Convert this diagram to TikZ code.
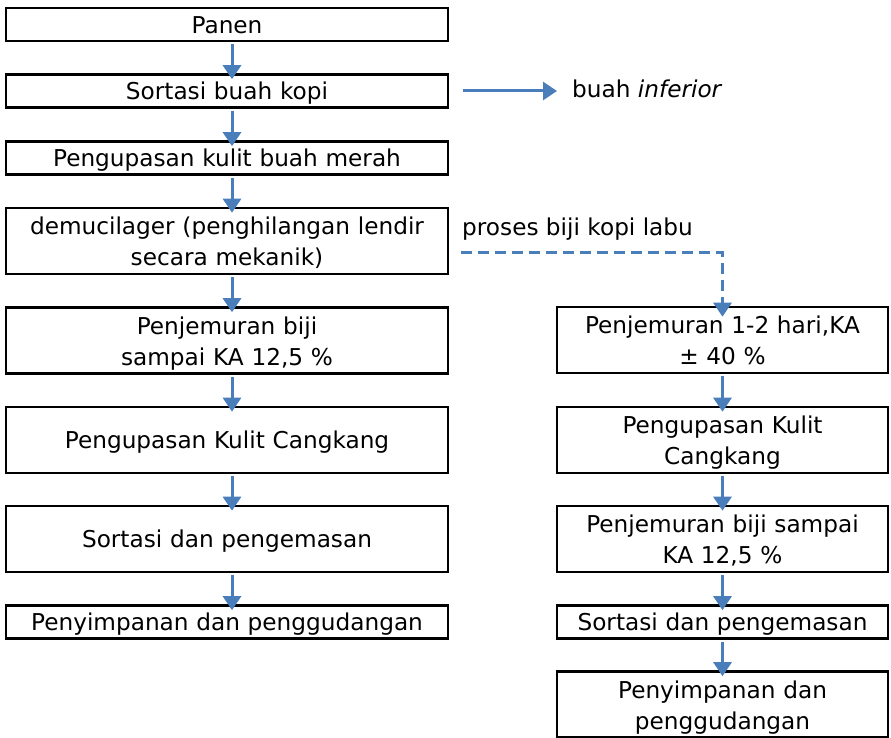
\documentclass[tikz,border=0pt]{standalone}
\usepackage{fontspec}
\setmainfont{DejaVu Sans}
\usetikzlibrary{arrows.meta}
\definecolor{flowblue}{RGB}{74,126,187}
\tikzset{
  proc/.style={draw=black, line width=2.6pt, inner sep=0pt, align=center,
    text height=17.5pt, text depth=0pt, font=\fontsize{23.2}{31}\selectfont},
  leftbox/.style={proc, minimum width=442pt, text width=436pt, minimum height=33pt},
  rightbox/.style={proc, minimum width=331pt, text width=325pt, minimum height=33pt},
  tallone/.style={minimum height=66pt},
  twoline/.style={minimum height=66pt, text depth=30.5pt},
  flow/.style={draw=flowblue, line width=3pt, -{Triangle[width=18pt,length=14pt]},
    shorten <=2pt, shorten >=-6pt},
  lbl/.style={inner sep=0pt, font=\fontsize{23.2}{31}\selectfont}
}

\begin{document}
\begin{tikzpicture}[x=1pt,y=-1pt]
\useasboundingbox (0,0) rectangle (891,738);

\node[leftbox] (panen) at (227,24.5) {Panen};
\node[leftbox] (sortasi) at (227,91) {Sortasi buah kopi};
\node[leftbox] (kupas) at (227,158) {Pengupasan kulit buah merah};
\node[leftbox,twoline] (demu) at (227,241) {demucilager (penghilangan lendir\\secara mekanik)};
\node[leftbox,twoline] (jemur) at (227,340.5) {Penjemuran biji\\sampai KA 12,5 \%};
\node[leftbox,tallone] (cangkang) at (227,440) {Pengupasan Kulit Cangkang};
\node[leftbox,tallone] (kemas) at (227,539) {Sortasi dan pengemasan};
\node[leftbox] (simpan) at (227,622) {Penyimpanan dan penggudangan};

\node[rightbox,twoline] (jemurA) at (722.5,340) {Penjemuran 1-2 hari,KA\\± 40 \%};
\node[rightbox,twoline] (cangkangA) at (722.5,440) {Pengupasan Kulit\\Cangkang};
\node[rightbox,twoline] (jemurB) at (722.5,539) {Penjemuran biji sampai\\KA 12,5 \%};
\node[rightbox] (kemasA) at (722.5,622) {Sortasi dan pengemasan};
\node[rightbox,twoline] (simpanA) at (722.5,704.5) {Penyimpanan dan\\penggudangan};

\node[lbl,anchor=base west] (inferior) at (572,98) {buah \textit{inferior}};
\node[lbl,anchor=base west] (labu) at (462,235) {proses biji kopi labu};

\draw[flow] ([xshift=5pt]panen.south) -- ([xshift=5pt]sortasi.north);
\draw[flow] ([xshift=5pt]sortasi.south) -- ([xshift=5pt]kupas.north);
\draw[flow] ([xshift=5pt]kupas.south) -- ([xshift=5pt]demu.north);
\draw[flow] ([xshift=5pt]demu.south) -- ([xshift=5pt]jemur.north);
\draw[flow] ([xshift=5pt]jemur.south) -- ([xshift=5pt]cangkang.north);
\draw[flow] ([xshift=5pt]cangkang.south) -- ([xshift=5pt]kemas.north);
\draw[flow] ([xshift=5pt]kemas.south) -- ([xshift=5pt]simpan.north);

\draw[flow] (jemurA.south) -- (cangkangA.north);
\draw[flow] (cangkangA.south) -- (jemurB.north);
\draw[flow] (jemurB.south) -- (kemasA.north);
\draw[flow] (kemasA.south) -- (simpanA.north);

\draw[flow, shorten >=0pt] ([xshift=12pt]sortasi.east) -- ([xshift=-15pt]sortasi.east -| inferior.west);
\draw[flow, dash pattern=on 11pt off 6pt, shorten >=-11pt] ([xshift=10pt,yshift=-11pt]demu.east) -| (jemurA.north);
\end{tikzpicture}
\end{document}
